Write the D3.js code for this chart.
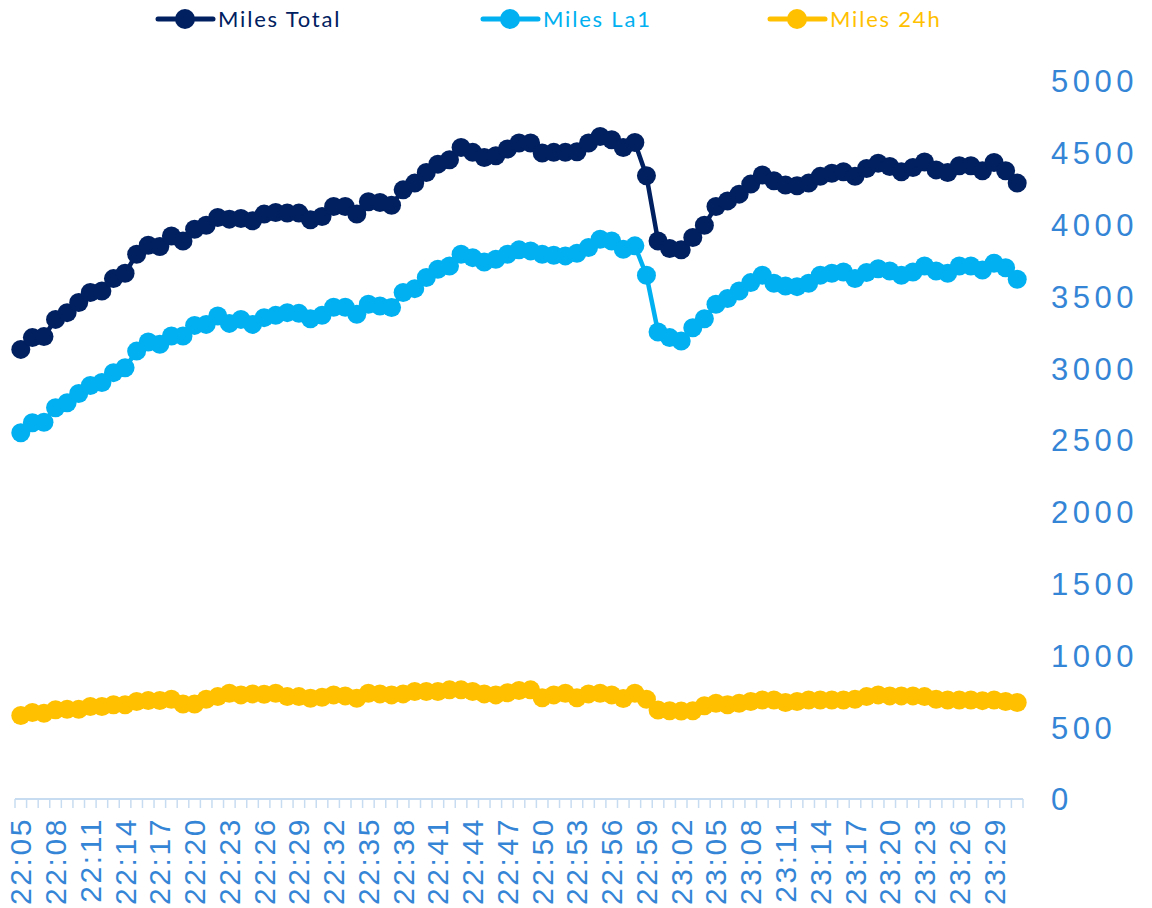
<!DOCTYPE html>
<html>
<head>
<meta charset="utf-8">
<script src="https://cdn.jsdelivr.net/npm/d3@7"></script>
<style>
  html, body { margin: 0; padding: 0; background: #fff; }
  svg { display: block; font-family: "Lato", "Noto Sans", sans-serif; }
</style>
</head>
<body>
<svg id="chart" width="1152" height="908"></svg>
<script>
const times = [
  "22:05","22:06","22:07","22:08","22:09","22:10","22:11","22:12","22:13","22:14",
  "22:15","22:16","22:17","22:18","22:19","22:20","22:21","22:22","22:23","22:24",
  "22:25","22:26","22:27","22:28","22:29","22:30","22:31","22:32","22:33","22:34",
  "22:35","22:36","22:37","22:38","22:39","22:40","22:41","22:42","22:43","22:44",
  "22:45","22:46","22:47","22:48","22:49","22:50","22:51","22:52","22:53","22:54",
  "22:55","22:56","22:57","22:58","22:59","23:00","23:01","23:02","23:03","23:04",
  "23:05","23:06","23:07","23:08","23:09","23:10","23:11","23:12","23:13","23:14",
  "23:15","23:16","23:17","23:18","23:19","23:20","23:21","23:22","23:23","23:24",
  "23:25","23:26","23:27","23:28","23:29","23:30","23:31"
];
const tickLabels = [
  "22:05","22:08","22:11","22:14","22:17","22:20","22:23","22:26","22:29","22:32",
  "22:35","22:38","22:41","22:44","22:47","22:50","22:53","22:56","22:59","23:02",
  "23:05","23:08","23:11","23:14","23:17","23:20","23:23","23:26","23:29"
];
const yTicks = [0, 500, 1000, 1500, 2000, 2500, 3000, 3500, 4000, 4500, 5000];

const milesTotal = [
  3131, 3213, 3220, 3340, 3387, 3457, 3527, 3538, 3624, 3661,
  3794, 3856, 3847, 3921, 3886, 3968, 3996, 4049, 4038, 4042,
  4026, 4073, 4084, 4080, 4080, 4033, 4056, 4126, 4126, 4073,
  4159, 4154, 4135, 4242, 4289, 4363, 4421, 4452, 4537, 4503,
  4467, 4479, 4526, 4568, 4568, 4498, 4503, 4503, 4507, 4568,
  4614, 4591, 4537, 4572, 4340, 3886, 3834, 3824, 3910, 3996,
  4126, 4165, 4212, 4282, 4345, 4305, 4275, 4270, 4289, 4336,
  4358, 4368, 4336, 4391, 4428, 4405, 4368, 4397, 4436, 4381,
  4363, 4410, 4410, 4375, 4433, 4375, 4289
];
const milesLa1 = [
  2550, 2620, 2624, 2725, 2759, 2824, 2880, 2900, 2969, 3003,
  3119, 3182, 3166, 3224, 3224, 3298, 3305, 3363, 3312, 3340,
  3305, 3352, 3368, 3387, 3382, 3345, 3368, 3425, 3425, 3375,
  3445, 3433, 3422, 3527, 3554, 3631, 3689, 3712, 3794, 3770,
  3740, 3759, 3794, 3824, 3817, 3794, 3787, 3782, 3801, 3840,
  3898, 3886, 3828, 3852, 3647, 3252, 3213, 3189, 3282, 3345,
  3445, 3485, 3538, 3596, 3647, 3591, 3573, 3568, 3591, 3647,
  3661, 3670, 3624, 3666, 3693, 3677, 3647, 3670, 3712, 3677,
  3661, 3712, 3712, 3684, 3731, 3700, 3619
];
const miles24h = [
  581, 602, 597, 621, 625, 625, 644, 644, 656, 656,
  679, 686, 686, 695, 662, 662, 695, 713, 737, 725,
  732, 730, 737, 713, 713, 701, 708, 725, 718, 701,
  737, 732, 725, 732, 748, 748, 748, 760, 760, 748,
  732, 725, 740, 755, 760, 705, 725, 737, 705, 732,
  737, 725, 700, 737, 695, 620, 615, 612, 615, 650,
  667, 656, 667, 679, 690, 690, 672, 679, 690, 690,
  690, 690, 695, 713, 725, 718, 718, 718, 713, 695,
  690, 690, 690, 685, 690, 679, 672
];

const seriesNames = ["Miles Total", "Miles La1", "Miles 24h"];
const seriesColors = ["#002060", "#00B0F0", "#FFC000"];
const seriesValues = [milesTotal, milesLa1, miles24h];

const axisColor = "#3585D6";
const tickColor = "#C8DCF1";

const svg = d3.select("#chart");
const x = d3.scaleBand().domain(times).range([15, 1023]).padding(0);
const y = d3.scaleLinear().domain([0, 5000]).range([799, 81]);
const cx = d => x(d) + x.bandwidth() / 2;

// X axis baseline and boundary ticks
const xAxisG = svg.append("g");
xAxisG.append("line")
  .attr("x1", x.range()[0]).attr("x2", x.range()[1])
  .attr("y1", y(0)).attr("y2", y(0))
  .attr("stroke", tickColor).attr("stroke-width", 2);
const boundaries = times.map(t => x(t)).concat([x.range()[1]]);
xAxisG.selectAll("line.tick").data(boundaries).enter().append("line")
  .attr("class", "tick")
  .attr("x1", d => d).attr("x2", d => d)
  .attr("y1", y(0)).attr("y2", y(0) + 9)
  .attr("stroke", tickColor).attr("stroke-width", 1.5);

// X labels via axis
const xLabelAxis = d3.axisBottom(x).tickValues(tickLabels).tickSize(0).tickPadding(0);
const xl = svg.append("g").attr("transform", `translate(0, ${y(0)})`).call(xLabelAxis);
xl.select(".domain").remove();
xl.selectAll("text")
  .attr("fill", axisColor)
  .attr("font-size", 30)
  .attr("letter-spacing", 2.6)
  .attr("text-anchor", "end")
  .attr("dy", null)
  .attr("dominant-baseline", "central")
  .attr("y", 0)
  .attr("transform", "translate(0, 18) rotate(-90)");

// Y axis labels on the right
const yAxis = d3.axisRight(y).tickValues(yTicks).tickSize(0).tickPadding(0).tickFormat(d3.format("d"));
const yl = svg.append("g").attr("transform", "translate(1051, 0)").call(yAxis);
yl.select(".domain").remove();
yl.selectAll("text")
  .attr("fill", axisColor)
  .attr("font-size", 31)
  .attr("letter-spacing", 4.5)
  .attr("dy", "0.35em");

// Series
const line = d3.line().x((d, i) => cx(times[i])).y(d => y(d));
seriesValues.forEach((vals, si) => {
  const g = svg.append("g");
  g.append("path").datum(vals)
    .attr("d", line)
    .attr("fill", "none")
    .attr("stroke", seriesColors[si])
    .attr("stroke-width", 4.5)
    .attr("stroke-linejoin", "round");
  g.selectAll("circle").data(vals).enter().append("circle")
    .attr("cx", (d, i) => cx(times[i]))
    .attr("cy", d => y(d))
    .attr("r", 9.5)
    .attr("fill", seriesColors[si]);
});

// Legend
const legendX = [185, 510, 797];
const legend = svg.append("g");
seriesNames.forEach((name, i) => {
  const g = legend.append("g").attr("transform", `translate(${legendX[i]}, 19)`);
  g.append("line").attr("x1", -27).attr("x2", 28).attr("y1", 0).attr("y2", 0)
    .attr("stroke", seriesColors[i]).attr("stroke-width", 5).attr("stroke-linecap", "round");
  g.append("circle").attr("r", 10).attr("fill", seriesColors[i]);
  g.append("text").attr("x", 33).attr("y", 0).attr("dy", "0.35em")
    .attr("font-size", 22).attr("letter-spacing", 1.8)
    .attr("fill", seriesColors[i]).text(name);
});
</script>
</body>
</html>
